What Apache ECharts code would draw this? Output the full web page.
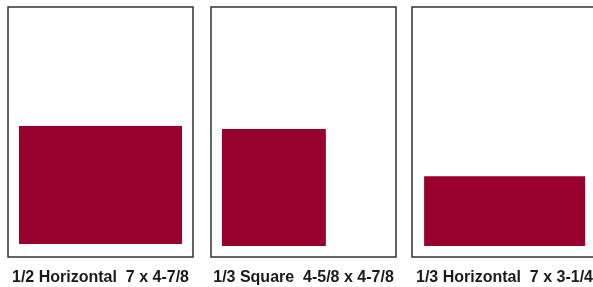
<!DOCTYPE html>
<html>
<head>
<meta charset="utf-8">
<script src="https://cdn.jsdelivr.net/npm/echarts@6/dist/echarts.min.js"></script>
<style>html,body{margin:0;padding:0;background:#fff}#c{width:593px;height:287px}</style>
</head>
<body>
<div id="c"></div>
<script>
// Ad sizes on a page (units: inches)
var labels = ['1/2 Horizontal  7 x 4-7/8', '1/3 Square  4-5/8 x 4-7/8', '1/3 Horizontal  7 x 3-1/4'];
var pageWidth = 7.94, pageHeight = 10.73;
var adLeft   = [0.47, 0.47, 0.52];
var adWidth  = [7.0, 4.46, 6.91];
var adBottom = [0.56, 0.47, 0.47];
var adHeight = [5.06, 5.02, 3.0];

var gridLefts = [8, 211, 412];
var gridWidths = [185, 185, 181]; // third page runs off the right edge
var chart = echarts.init(document.getElementById('c'));
var grids = [], xAxes = [], yAxes = [], series = [], graphics = [];
for (var i = 0; i < 3; i++) {
  grids.push({left: gridLefts[i], top: 7, height: 250, width: gridWidths[i], show: false});
  xAxes.push({type: 'value', gridIndex: i, min: 0, max: pageWidth * gridWidths[i] / 185, show: false});
  yAxes.push({type: 'value', gridIndex: i, min: 0, max: pageHeight, show: false});
  // page frame
  series.push({
    type: 'custom', xAxisIndex: i, yAxisIndex: i, clip: false,
    data: [[0, 0, pageWidth, pageHeight]],
    renderItem: function (params, api) {
      var p0 = api.coord([api.value(0), api.value(1) + api.value(3)]);
      var p1 = api.coord([api.value(0) + api.value(2), api.value(1)]);
      return {type: 'rect', shape: {x: p0[0], y: p0[1], width: p1[0] - p0[0], height: p1[1] - p0[1]},
        style: {fill: 'none', stroke: '#333', lineWidth: 1.5}};
    },
    silent: true, animation: false
  });
  // ad block
  series.push({
    type: 'custom', xAxisIndex: i, yAxisIndex: i,
    data: [[adLeft[i], adBottom[i], adWidth[i], adHeight[i]]],
    renderItem: function (params, api) {
      var p0 = api.coord([api.value(0), api.value(1) + api.value(3)]);
      var p1 = api.coord([api.value(0) + api.value(2), api.value(1)]);
      return {type: 'rect', shape: {x: p0[0], y: p0[1], width: p1[0] - p0[0], height: p1[1] - p0[1]},
        style: {fill: '#98002E'}};
    },
    silent: true, animation: false
  });
  graphics.push({type: 'text', x: gridLefts[i] + 92.5, y: 278,
    style: {text: labels[i], fill: '#1a1a1a', font: 'bold 16px "Liberation Sans", Arial, sans-serif',
      textAlign: 'center', textVerticalAlign: 'middle', align: 'center', verticalAlign: 'middle'}});
}
chart.setOption({animation: false, grid: grids, xAxis: xAxes, yAxis: yAxes, series: series, graphic: graphics});
</script>
</body>
</html>
